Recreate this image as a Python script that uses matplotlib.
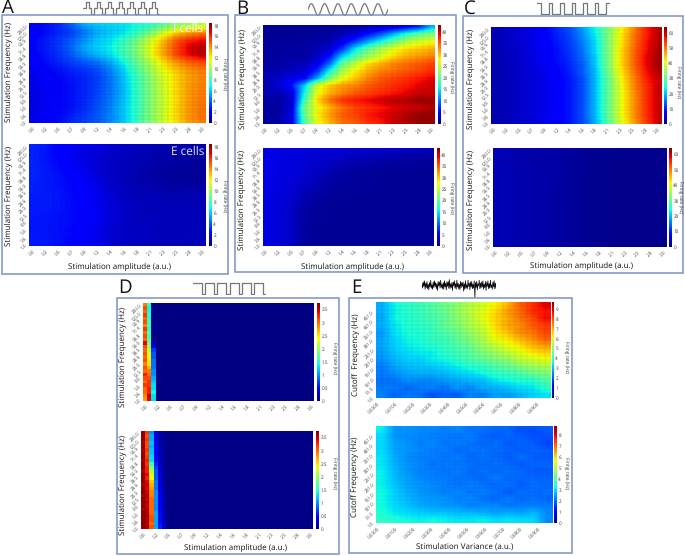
import numpy as np
import matplotlib
matplotlib.use("Agg")
import matplotlib.pyplot as plt
from matplotlib.patches import Rectangle

W, H = 685, 556
plt.rcParams['font.family'] = ['Open Sans', 'DejaVu Sans']
plt.rcParams['text.hinting'] = 'no_hinting'

amp_labels = ['0.0','0.2','0.5','0.7','0.9','1.2','1.4','1.6','1.8','2.1','2.3','2.5','2.8','3.0']
freq_labels = ['1.0','3.6','5.0','8.0','12.5','20.0','28.6','38.5','50.0','58.8','71.4','90.9','125.0','200.0']
var_labels = ['0.0000','0.0100','0.0200','0.0300','0.0400','0.0500','0.0600','0.0700','0.0800','0.0900']
cut_labels = ['1.0','51.0','101.0','151.0','201.0','251.0','301.0','351.0','401.0','451.0']

# firing rates, rows from the highest frequency down to the lowest
a_top = [
 [2.0,2.5,3.0,4.0,5.5,6.0,6.2,6.5,7.0,7.5,8.5,9.5,10.0,10.5],
 [2.0,2.5,3.0,3.5,4.5,5.5,6.0,6.5,7.5,9.0,11.0,12.5,13.5,14.0],
 [2.3,2.8,3.3,4.0,5.0,6.0,6.5,7.5,9.0,11.0,13.0,15.0,16.0,16.5],
 [2.3,2.8,3.3,4.2,5.5,6.2,6.8,8.0,9.5,11.5,13.5,15.5,17.0,17.6],
 [2.2,2.7,3.2,4.0,5.0,5.8,6.5,7.8,9.3,11.5,13.5,15.5,16.8,17.6],
 [2.0,2.5,3.0,3.5,4.0,4.5,5.5,7.0,8.8,10.5,12.5,14.0,15.0,15.5],
 [2.0,2.3,2.6,3.0,3.3,3.8,4.8,6.3,8.2,10.0,11.8,13.0,14.0,14.5],
 [1.8,2.1,2.4,2.7,3.0,3.5,4.5,6.0,7.8,9.6,11.3,12.6,13.6,14.2],
 [1.8,2.1,2.3,2.6,3.0,3.5,4.5,5.9,7.7,9.5,11.2,12.6,13.7,14.3],
 [1.8,2.0,2.3,2.6,3.0,3.6,4.5,5.8,7.6,9.4,11.1,12.6,13.8,14.4],
 [1.7,2.0,2.3,2.6,3.0,3.7,4.6,5.9,7.6,9.4,11.0,12.5,13.8,14.5],
 [1.7,1.9,2.3,2.6,3.1,3.8,4.7,6.0,7.6,9.4,11.0,12.6,13.9,14.6],
 [1.7,2.0,2.4,2.8,3.3,3.9,4.8,6.0,7.7,9.4,11.1,12.6,13.9,14.6],
 [1.8,2.1,2.5,3.0,3.5,4.0,4.8,6.0,7.6,9.3,11.0,12.5,13.8,14.5],
]
a_bot = [
 [3.0,2.8,2.3,2.0,1.8,1.7,1.4,1.2,1.1,1.0,0.9,0.8,0.7,0.7],
 [2.9,2.7,2.2,1.9,1.6,1.5,1.3,1.1,1.0,0.9,0.8,0.7,0.7,0.6],
 [3.0,2.7,2.4,2.0,1.7,1.4,1.2,1.0,0.9,0.8,0.7,0.6,0.6,0.5],
 [3.0,2.8,2.5,2.2,1.8,1.4,1.2,1.0,0.9,0.7,0.6,0.6,0.5,0.5],
 [3.0,2.8,2.6,2.3,1.9,1.5,1.2,1.0,0.8,0.7,0.6,0.5,0.5,0.4],
 [2.9,2.8,2.6,2.4,2.1,1.7,1.3,1.0,0.9,0.8,0.7,0.6,0.5,0.5],
 [2.9,2.8,2.7,2.4,2.2,1.8,1.4,1.1,1.0,0.9,0.8,0.8,0.8,0.8],
 [2.8,2.8,2.7,2.5,2.2,1.9,1.5,1.1,1.0,1.0,0.9,0.9,0.9,0.9],
 [2.8,2.8,2.7,2.5,2.2,1.9,1.5,1.2,1.1,1.0,1.0,0.9,0.9,0.9],
 [2.8,2.7,2.6,2.5,2.3,1.9,1.5,1.2,1.1,1.0,1.0,1.0,1.0,1.0],
 [2.7,2.7,2.6,2.5,2.2,1.9,1.5,1.2,1.1,1.1,1.0,1.0,1.0,1.0],
 [2.7,2.7,2.6,2.4,2.2,1.8,1.4,1.2,1.1,1.1,1.0,1.0,1.0,1.0],
 [2.8,2.7,2.6,2.4,2.1,1.8,1.4,1.2,1.1,1.1,1.0,1.0,1.0,1.0],
 [2.8,2.8,2.6,2.3,2.1,1.8,1.4,1.2,1.1,1.1,1.0,1.0,1.0,1.0],
]
b_top = [
 [1.0,1.0,1.0,1.0,1.0,1.0,1.2,1.5,2.0,2.5,3.5,5.0,7.0,13.0],
 [1.0,1.0,1.0,1.0,1.2,1.5,2.0,3.5,6.0,9.0,13.0,17.0,20.0,22.0],
 [1.2,1.2,1.2,1.5,1.5,2.0,4.0,8.0,12.0,16.0,20.0,24.0,26.0,27.0],
 [1.5,1.5,1.5,1.5,2.0,3.0,8.0,15.0,20.0,24.0,27.0,29.0,30.0,31.0],
 [1.5,1.5,1.5,1.5,2.5,6.0,14.0,19.0,23.0,26.0,29.0,31.0,32.0,33.0],
 [1.5,1.5,2.0,2.5,4.0,10.0,20.0,25.0,29.0,31.0,33.0,34.0,35.0,36.0],
 [2.0,2.0,2.5,3.0,7.0,16.0,24.0,28.0,31.0,33.0,34.0,35.0,36.0,37.0],
 [2.0,3.0,4.0,5.0,12.0,21.0,27.0,30.0,33.0,35.0,36.0,37.0,38.0,39.0],
 [2.0,3.5,6.0,14.0,26.0,30.0,32.0,33.0,35.0,36.0,37.0,38.0,39.0,40.0],
 [2.0,2.0,3.5,16.0,27.0,31.0,33.0,35.0,36.0,37.0,38.0,39.0,40.0,40.0],
 [1.5,1.5,3.0,18.0,29.0,34.0,37.0,38.0,39.0,40.0,41.0,41.0,42.0,42.0],
 [1.5,1.5,3.5,21.0,27.0,31.0,34.0,36.0,37.0,38.0,39.0,40.0,40.0,41.0],
 [1.5,1.5,4.0,20.0,28.0,32.0,35.0,36.0,38.0,39.0,40.0,41.0,42.0,42.0],
 [1.5,1.5,4.0,19.0,27.0,31.0,34.0,35.0,37.0,38.0,40.0,41.0,42.0,42.0],
]
b_bot = [
 [4.0,3.8,3.6,3.5,3.4,3.3,3.2,3.0,3.0,2.8,2.8,2.6,2.4,2.2],
 [4.0,3.8,3.6,3.4,3.2,3.0,2.8,2.4,2.2,2.0,1.8,1.6,1.5,1.5],
 [4.0,3.8,3.5,3.3,3.0,2.4,2.0,1.7,1.5,1.3,1.2,1.1,1.0,1.0],
 [4.0,3.8,3.5,3.2,2.6,2.0,1.6,1.3,1.2,1.1,1.0,1.0,1.0,1.0],
 [4.0,3.8,3.5,3.0,2.3,1.7,1.3,1.2,1.1,1.0,1.0,0.9,0.9,0.9],
 [4.0,3.7,3.4,2.6,2.0,1.4,1.2,1.1,1.0,1.0,0.9,0.9,0.9,0.9],
 [3.9,3.6,3.2,2.2,1.6,1.2,1.1,1.0,1.0,0.9,0.9,0.9,0.9,0.9],
 [3.8,3.5,3.0,1.9,1.3,1.1,1.0,1.0,0.9,0.9,0.9,0.9,0.9,0.9],
 [3.8,3.5,2.8,1.6,1.2,1.0,1.0,0.9,0.9,0.9,0.9,0.9,0.9,0.9],
 [3.8,3.4,2.8,1.4,1.1,1.0,0.9,0.9,0.9,0.9,0.9,0.9,0.9,0.9],
 [3.8,3.4,2.8,1.3,1.0,1.0,0.9,0.9,0.9,0.9,0.9,0.9,0.9,0.9],
 [3.8,3.4,2.8,1.3,1.0,0.9,0.9,0.9,0.9,0.9,0.9,0.9,0.9,0.9],
 [3.8,3.4,2.8,1.3,1.0,0.9,0.9,0.9,0.9,0.9,0.9,0.9,0.9,0.9],
 [3.8,3.4,2.8,1.3,1.0,0.9,0.9,0.9,0.9,0.9,0.9,0.9,0.9,0.9],
]
c_top = [
 [3.0,4.0,5.0,6.5,8.0,10.5,13.0,18.0,24.0,32.0,41.0,49.0,56.0,61.0],
 [3.0,4.0,5.0,6.0,7.5,10.0,12.5,17.0,23.0,32.0,42.0,50.0,56.0,61.0],
 [3.0,3.8,4.8,6.0,7.5,9.5,12.0,16.0,22.0,32.0,42.0,50.0,57.0,61.0],
 [2.8,3.6,4.6,5.8,7.0,9.0,11.5,15.5,22.0,32.0,43.0,51.0,57.0,62.0],
 [2.8,3.5,4.5,5.5,7.0,9.0,11.0,15.0,21.0,32.0,43.0,51.0,58.0,62.0],
 [2.8,3.5,4.5,5.5,6.8,8.5,10.5,14.0,21.0,32.0,43.0,51.0,58.0,62.0],
 [2.8,3.5,4.4,5.3,6.5,8.0,10.0,14.0,20.0,31.0,42.0,50.0,57.0,61.0],
 [2.8,3.5,4.3,5.2,6.2,7.8,9.5,13.0,20.0,30.0,41.0,49.0,56.0,60.0],
 [2.8,3.5,4.3,5.2,6.2,7.5,9.5,13.0,20.0,30.0,40.0,49.0,55.0,60.0],
 [2.8,3.5,4.3,5.2,6.2,7.5,9.5,13.0,20.0,30.0,40.0,48.0,55.0,60.0],
 [2.8,3.5,4.3,5.2,6.2,7.5,9.5,13.0,20.0,30.0,40.0,48.0,55.0,60.0],
 [2.8,3.5,4.3,5.2,6.2,7.5,9.5,13.0,20.0,30.0,40.0,48.0,55.0,60.0],
 [2.8,3.5,4.3,5.2,6.2,7.5,9.5,13.0,20.0,30.0,40.0,48.0,55.0,60.0],
 [2.8,3.5,4.3,5.2,6.2,7.5,9.5,13.0,19.0,29.0,39.0,47.0,54.0,60.0],
]
c_bot = [
 [3.2,3.0,2.8,2.6,2.4,2.2,1.8,1.3,1.1,1.0,0.9,0.9,0.8,0.8],
 [3.2,3.0,2.8,2.6,2.4,2.2,1.8,1.3,1.1,1.0,0.9,0.9,0.8,0.8],
 [3.2,3.0,2.8,2.6,2.4,2.2,1.8,1.3,1.1,1.0,0.9,0.9,0.8,0.8],
 [3.2,3.0,2.8,2.6,2.4,2.2,1.8,1.3,1.1,1.0,0.9,0.9,0.8,0.8],
 [3.2,3.0,2.8,2.6,2.4,2.2,1.7,1.3,1.1,1.0,0.9,0.9,0.8,0.8],
 [3.2,3.0,2.8,2.6,2.4,2.1,1.7,1.3,1.1,1.0,0.9,0.9,0.8,0.8],
 [3.2,3.0,2.8,2.6,2.4,2.1,1.7,1.3,1.1,1.0,0.9,0.9,0.8,0.8],
 [3.2,3.0,2.8,2.6,2.3,2.1,1.7,1.3,1.1,1.0,0.9,0.9,0.8,0.8],
 [3.2,3.0,2.8,2.6,2.3,2.1,1.7,1.3,1.1,1.0,0.9,0.9,0.8,0.8],
 [3.2,3.0,2.8,2.6,2.3,2.0,1.7,1.3,1.1,1.0,0.9,0.9,0.8,0.8],
 [3.2,3.0,2.8,2.6,2.3,2.0,1.7,1.3,1.1,1.0,0.9,0.9,0.8,0.8],
 [3.2,3.0,2.8,2.6,2.3,2.0,1.7,1.3,1.1,1.0,0.9,0.9,0.8,0.8],
 [3.2,3.0,2.8,2.6,2.3,2.0,1.7,1.3,1.1,1.0,0.9,0.9,0.8,0.8],
 [3.2,3.0,2.8,2.6,2.3,2.0,1.7,1.3,1.1,1.0,0.9,0.9,0.8,0.8],
]
# panel D: only the first cells of each row differ from the floor value
d_top_col0 = [2.9,3.1,3.0,3.2,3.0,3.1,2.9,3.2,3.0,3.1,3.0,3.4,3.1,3.0,3.1,3.0,3.1,2.9,3.1,3.0,3.3,3.1,3.0,3.2,3.0,3.0,2.9,2.8]
d_top_col1 = [1.5,1.4,1.4,1.5,1.5,1.6,1.6,1.5,1.7,1.6,1.7,1.9,2.0,2.2,2.3,2.4,2.5,2.5,2.7,2.9,3.0,3.1,3.2,3.2,3.3,3.3,3.5,3.4]
d_top_col2 = [0.05,0.05,0.05,0.05,0.05,0.05,0.05,0.05,0.05,0.05,0.1,0.2,0.4,0.7,0.8,0.8,0.9,0.9,0.9,1.0,1.0,1.1,1.2,1.3,1.3,1.4,1.3,1.3]
d_bot_col0 = [3.7,3.7,3.7,3.6,3.7,3.6,3.7,3.7,3.6,3.7,3.7,3.6,3.7,3.7,3.7,3.6,3.7,3.7,3.6,3.7,3.7,3.7,3.6,3.7,3.7,3.7,3.7,3.7]
d_bot_col1 = [3.2,3.1,3.2,3.1,3.1,3.2,3.1,3.2,3.3,3.2,3.3,3.3,3.4,3.3,3.4,3.5,3.4,3.5,3.6,3.5,3.6,3.5,3.6,3.6,3.6,3.6,3.6,3.6]
d_bot_col2 = [1.0,1.1,1.1,1.2,1.1,1.2,1.2,1.3,1.3,1.6,1.9,2.1,2.3,2.4,2.6,2.7,2.8,2.9,2.9,3.0,3.0,3.0,3.0,3.0,3.1,3.1,3.0,3.1]
d_bot_col3 = [0.3,0.3,0.3,0.4,0.4,0.4,0.4,0.5,0.5,0.6,0.7,0.8,0.8,0.8,0.9,0.9,0.9,1.0,1.0,1.0,1.0,1.0,1.0,1.1,1.1,1.1,1.1,1.1]
d_bot_col4 = [0.15,0.15,0.15,0.15,0.2,0.2,0.2,0.2,0.2,0.2,0.25,0.3,0.3,0.3,0.3,0.3,0.35,0.35,0.4,0.4,0.4,0.45,0.45,0.5,0.5,0.5,0.55,0.6]
d_bot_col5 = [0.08,0.08,0.08,0.08,0.1,0.1,0.1,0.1,0.1,0.1,0.1,0.1,0.1,0.12,0.12,0.12,0.12,0.15,0.15,0.15,0.15,0.15,0.2,0.2,0.2,0.2,0.25,0.3]
e_top = [
 [2.9,3.6,3.9,4.1,4.3,4.7,5.0,5.5,5.8,6.3,6.9,7.8,8.3,8.9],
 [2.9,3.5,3.9,4.0,4.4,4.6,5.1,5.6,6.0,6.5,7.2,7.7,8.4,8.6],
 [2.8,3.6,3.8,4.0,4.2,4.5,5.0,5.4,6.1,6.6,7.0,7.6,8.0,8.7],
 [2.9,3.4,3.8,3.9,4.1,4.6,4.9,5.4,5.8,6.5,7.1,7.3,7.9,8.2],
 [2.7,3.4,3.7,3.8,4.0,4.3,4.6,5.1,5.6,6.4,6.8,7.4,7.6,8.1],
 [2.8,3.3,3.6,3.7,4.0,4.1,4.5,4.9,5.4,6.2,6.4,6.9,7.3,7.8],
 [2.8,3.2,3.5,3.6,3.8,4.0,4.3,4.6,5.2,5.6,6.1,6.4,6.9,7.2],
 [2.7,3.1,3.3,3.5,3.5,3.9,4.1,4.4,4.8,5.2,5.6,6.0,6.4,6.6],
 [2.6,3.0,3.2,3.2,3.5,3.6,3.9,4.2,4.5,4.8,5.0,5.6,5.8,6.1],
 [2.4,2.8,3.0,3.1,3.1,3.3,3.5,3.8,3.9,4.3,4.5,4.9,5.2,5.4],
 [2.4,2.6,2.8,2.9,2.9,3.0,3.2,3.3,3.6,3.9,4.0,4.2,4.6,4.8],
 [2.3,2.3,2.6,2.5,2.5,2.7,2.8,3.0,3.0,3.4,3.6,3.8,3.8,4.3],
 [2.4,2.4,2.2,2.4,2.5,2.3,2.7,2.5,2.9,2.9,3.1,3.3,3.4,3.9],
 [2.5,2.2,2.4,2.3,2.0,2.2,2.1,2.5,2.4,2.8,2.7,3.0,3.2,3.4],
]
e_bot = [
 [3.2,2.4,2.4,2.3,2.3,2.2,2.3,2.1,2.1,2.0,2.0,1.8,1.8,1.9],
 [3.0,2.4,2.3,2.3,2.2,2.2,2.1,2.2,2.0,1.9,2.0,1.9,1.8,1.8],
 [3.0,2.5,2.4,2.2,2.3,2.1,2.2,2.1,2.0,2.1,1.9,2.0,1.9,1.7],
 [3.0,2.5,2.4,2.3,2.2,2.2,2.0,2.1,2.1,2.0,2.0,1.9,2.0,1.9],
 [3.1,2.6,2.3,2.2,2.2,2.1,2.2,2.0,2.1,2.0,1.9,2.1,1.9,1.9],
 [3.1,2.6,2.4,2.3,2.1,2.2,2.1,2.1,2.0,2.1,2.0,1.9,2.0,2.0],
 [3.2,2.7,2.4,2.2,2.2,2.1,2.2,2.0,2.1,2.0,2.1,2.0,1.9,1.9],
 [3.2,2.7,2.5,2.3,2.2,2.2,2.1,2.1,2.0,2.2,2.0,2.0,2.0,2.0],
 [3.2,2.8,2.5,2.4,2.3,2.2,2.1,2.2,2.1,2.0,2.1,1.9,2.1,2.0],
 [3.3,2.9,2.6,2.4,2.3,2.2,2.3,2.1,2.2,2.1,1.9,2.1,2.0,2.1],
 [3.3,2.9,2.7,2.5,2.4,2.4,2.2,2.3,2.1,2.0,2.2,2.0,2.1,2.0],
 [3.3,3.0,2.8,2.6,2.5,2.4,2.4,2.2,2.3,2.3,2.1,2.2,2.2,2.2],
 [3.4,3.1,3.0,2.9,2.8,2.8,2.7,2.7,2.6,2.5,2.6,2.5,2.7,2.3],
 [3.6,3.4,3.3,3.2,3.3,3.2,3.1,3.1,3.2,3.0,3.1,3.0,3.0,2.3],
]

# stimulus icons: one cycle of levels, repeated
icon_a_cycle = [0, 1, 0, -1]
icon_a_cycles = 7
icon_c_cycle = [1, 0, 0]
icon_c_cycles = 6
icon_d_cycle = [1, 1, 1, 0]
icon_d_cycles = 6
icon_b_cycle = [0, .38, .71, .92, 1, .92, .71, .38, 0, -.38, -.71, -.92, -1, -.92, -.71, -.38]
icon_b_cycles = 6
icon_e_trace = [.3,-.5,.6,-.2,.8,-.7,.4,-.4,.7,-.6,.2,-.8,.5,-.3,.9,-.5,.1,-.7,.6,-.4,
 .8,-.2,.5,-.6,.3,-.9,.7,-.1,.6,-.5,.9,-.4,.2,-.6,.5,-.7,.8,-.3,.4,-.8,
 .6,-.2,.7,-.5,1.0,-.6,.3,-.4,.5,-.9,.6,-.1,.8,-.5,.3,-.7,.9,-.3,.4,-.6,
 .2,-.8,.7,-.4,.5,-.2,.6,-1.0,.3,-.7,.8,-.5,.1,-.6,.9,-.2,.4,-.8,.6,-.3,
 .7,-.6,.2,-.5,.8,-2.2,.5,-.4,.7,-.8,.3,-.1,.9,-.6,.4,-.5,.6,-.3,.8,-.7,
 .2,-.4,.7,-.9,.5,-.2,.8,-.6,.3,-.5,.9,-.4,.1,-.7,.6,-.3,.8,-.6,.4,-.5]

fig = plt.figure(figsize=(W / 100, H / 100), dpi=100, facecolor='white')


def box(x0, y0, x1, y1):
    return [x0 / W, 1 - y1 / H, (x1 - x0) / W, (y1 - y0) / H]


def ftext(x, y, s, **kw):
    kw.setdefault('ha', 'center')
    kw.setdefault('va', 'center')
    fig.text(x / W, 1 - y / H, s, **kw)


def panel(pos, cpos, grid, vmax, cticks, xlabels, ylabels, xt, yt, extent, interp, grid_alpha, ncells=(28, 28)):
    ax = fig.add_axes(box(*pos))
    im = ax.imshow(np.asarray(grid), cmap='jet', vmin=0, vmax=vmax, aspect='auto',
                   origin='upper', extent=extent, interpolation=interp)
    ax.set_xlim(0, 1)
    ax.set_ylim(0, 1)
    ax.set_xticks(xt)
    ax.set_xticklabels(xlabels, rotation=45, ha='right', rotation_mode='anchor',
                       fontsize=3.3, color='#444444')
    ax.set_yticks(yt)
    ax.set_yticklabels(ylabels, rotation=45, ha='right', rotation_mode='anchor',
                       fontsize=3.3, color='#444444')
    ax.tick_params(length=0, pad=2)
    for s in ax.spines.values():
        s.set_visible(False)
    if grid_alpha:
        for v in np.arange(1, ncells[0]) / ncells[0]:
            ax.axvline(v, color='k', lw=0.3, alpha=grid_alpha)
        for v in np.arange(1, ncells[1]) / ncells[1]:
            ax.axhline(v, color='k', lw=0.3, alpha=grid_alpha)
    cax = fig.add_axes(box(*cpos))
    cb = fig.colorbar(im, cax=cax)
    cb.outline.set_visible(False)
    cb.set_ticks(cticks)
    cb.set_ticklabels([('%g' % t) for t in cticks])
    cb.ax.tick_params(length=0, pad=1, labelsize=3.3, labelcolor='#333333')
    return ax


def axis_ticks(n, margin):
    return list(margin + (1 - 2 * margin) * np.arange(n) / (n - 1))


def tick_extent(nx, ny, mx=0.5 / 28, my=0.5 / 28):
    sx = (1 - 2 * mx) / (nx - 1)
    sy = (1 - 2 * my) / (ny - 1)
    return (mx - sx / 2, 1 - mx + sx / 2, my - sy / 2, 1 - my + sy / 2)


xt = axis_ticks(len(amp_labels), 0.5 / 28)
yt = axis_ticks(len(freq_labels), 0.5 / 28)
ext = tick_extent(14, 14)

# A
panel((29, 23, 206, 123), (209, 23, 212, 123), a_top, 18.5, list(range(0, 19, 2)), amp_labels, freq_labels, xt, yt, ext, 'bilinear', .16)
panel((29, 144, 206, 246), (209, 144, 212, 246), a_bot, 18.5, list(range(0, 19, 2)), amp_labels, freq_labels, xt, yt, ext, 'bilinear', .10)
# B
panel((263, 25, 435, 124), (438, 25, 441, 124), b_top, 43, list(range(0, 41, 5)), amp_labels, freq_labels, xt, yt, ext, 'bilinear', .10)
panel((263, 148, 434, 246), (437, 148, 440, 246), b_bot, 43, list(range(0, 41, 5)), amp_labels, freq_labels, xt, yt, ext, 'bilinear', .03)
# C
panel((491, 27, 661, 124), (664, 27, 667, 124), c_top, 64, list(range(0, 61, 10)), amp_labels, freq_labels, xt, yt, ext, 'bilinear', .10)
panel((493, 148, 667, 247), (669, 148, 672, 247), c_bot, 64, list(range(0, 61, 10)), amp_labels, freq_labels, xt, yt, ext, 'bilinear', .05)

# D
def d_grid(cols, floor):
    g = np.full((28, 41), floor, dtype=float)
    for i, c in enumerate(cols):
        g[:, i] = c
    return g


d_ticks = [0, .5, 1, 1.5, 2, 2.5, 3, 3.5]
xtd = axis_ticks(14, 0.014)
panel((143, 303, 314, 401), (317, 303, 320, 401), d_grid([d_top_col0, d_top_col1, d_top_col2], 0.02), 3.75, d_ticks, amp_labels, freq_labels, xtd, yt, (0, 1, 0, 1), 'nearest', .03, (41, 28))
panel((141, 431, 313, 529), (316, 431, 319, 529), d_grid([d_bot_col0, d_bot_col1, d_bot_col2, d_bot_col3, d_bot_col4, d_bot_col5], 0.04), 3.75, d_ticks, amp_labels, freq_labels, xtd, yt, (0, 1, 0, 1), 'nearest', .03, (41, 28))

# E
xte = [0.0095 + 0.101 * i for i in range(len(var_labels))]
yte = [0.01 + 0.0997 * i for i in range(len(cut_labels))]
panel((376, 302, 551, 398), (552, 302, 554, 398), e_top, 9.7, list(range(0, 10)), var_labels, cut_labels, xte, yte, (0, 1, 0, 1), 'bilinear', .14, (29, 25))
panel((376, 426, 553, 523), (554, 426, 557, 523), e_bot, 8.8, list(range(0, 9)), var_labels, cut_labels, xte, yte, (0, 1, 0, 1), 'bilinear', .06, (29, 25))

# frames
for x0, y0, x1, y1 in [(2, 15, 228, 274), (235, 15, 456, 272), (463, 16, 683, 273), (117, 298, 339, 554), (349, 298, 572, 553)]:
    fig.add_artist(Rectangle((x0 / W, 1 - y1 / H), (x1 - x0) / W, (y1 - y0) / H, fill=False,
                             edgecolor='#7a93bf', lw=1.1, transform=fig.transFigure))

# text
FS = 5.8
for x, y, s in [(120, 267, 'Stimulation amplitude (a.u.)'), (353, 267, 'Stimulation amplitude (a.u.)'),
                (582, 266, 'Stimulation amplitude (a.u.)'), (236, 548, 'Stimulation amplitude (a.u.)'),
                (465, 547, 'Stimulation Variance (a.u.)')]:
    ftext(x, y, s, fontsize=FS, color='#111111')
for x, y, s in [(9, 72, 'Stimulation Frequency (Hz)'), (9, 196, 'Stimulation Frequency (Hz)'),
                (243, 79, 'Stimulation Frequency (Hz)'), (242, 200, 'Stimulation Frequency (Hz)'),
                (471, 79, 'Stimulation Frequency (Hz)'), (471, 200, 'Stimulation Frequency (Hz)'),
                (123, 357, 'Stimulation Frequency (Hz)'), (123, 485, 'Stimulation Frequency (Hz)'),
                (356, 355, 'Cutoff  Frequency (Hz)'), (355, 477, 'Cutoff Frequency (Hz)')]:
    ftext(x, y, s, fontsize=FS, color='#111111', rotation=90)
for x, y in [(224, 74), (224, 196), (452, 77), (452, 198), (678, 82), (680, 197), (334, 358), (334, 473), (567, 357), (567, 473)]:
    ftext(x, y, 'Firing rate (Hz)', fontsize=3.4, color='#333333', rotation=270)
for x, y, s in [(8, 8, 'A'), (242, 9, 'B'), (470, 9, 'C'), (125, 288, 'D'), (356, 288, 'E')]:
    ftext(x, y, s, fontsize=13.5, color='#111111')
ftext(188, 29, 'I cells', fontsize=8.5, color='white')
ftext(188, 152, 'E cells', fontsize=8.5, color='#dfe6f5')


# stimulus icons
def icon(pos, levels, step, color='#777777', lw=0.9, ylim=None):
    ax = fig.add_axes(box(*pos))
    ax.axis('off')
    levels = np.asarray(levels, dtype=float)
    x = np.arange(len(levels))
    if step:
        ax.step(np.append(x, len(levels)), np.append(levels, levels[-1]), where='post', color=color, lw=lw)
    else:
        ax.plot(x, levels, color=color, lw=lw)
    ax.set_xlim(0, len(levels) - (0 if step else 1))
    if ylim:
        ax.set_ylim(*ylim)


icon((83, 1, 160, 15), icon_a_cycle * icon_a_cycles, True)
icon((308, 3, 388, 16), icon_b_cycle * icon_b_cycles + [0], False)
icon((537, 2, 610, 15), icon_c_cycle * icon_c_cycles + [1], True)
icon((193, 282, 266, 295), icon_d_cycle * icon_d_cycles, True)
icon((422, 279, 496, 298), icon_e_trace, False, color='black', lw=0.5, ylim=(-2.2, 1.1))

fig.savefig('out.png', dpi=100)
